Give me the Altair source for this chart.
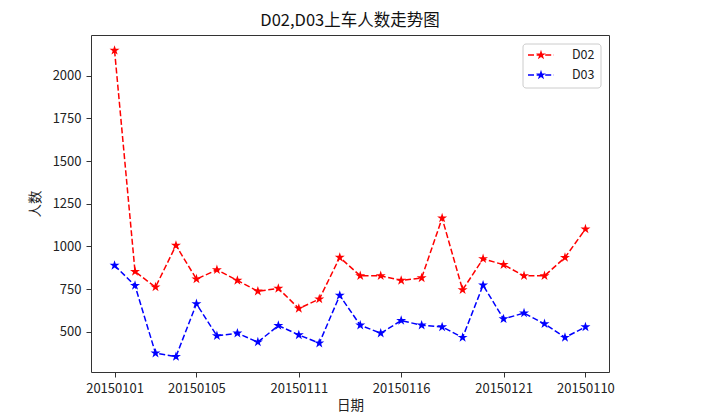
import math
import altair as alt
import pandas as pd

dates = ["20150101", "20150102", "20150103", "20150104", "20150105", "20150106",
         "20150107", "20150108", "20150109", "20150111", "20150112", "20150113",
         "20150114", "20150115", "20150116", "20150117", "20150118", "20150119",
         "20150120", "20150121", "20150122", "20150123", "20150124", "20150110"]
d02 = [2148, 853, 762, 1006, 809, 863, 801, 738, 754, 637, 692, 936,
       828, 828, 801, 816, 1166, 746, 928, 893, 828, 828, 935, 1102]
d03 = [889, 771, 375, 355, 664, 477, 492, 440, 537, 482, 434, 713,
       539, 492, 566, 539, 529, 467, 773, 576, 610, 547, 467, 529]
tick_idx = [0, 4, 9, 14, 19, 23]
series = ["D02", "D03"]
colors = ["#ff0000", "#0000ff"]

rows = []
for i, d in enumerate(dates):
    rows.append({"idx": i, "date": d, "series": "D02", "value": d02[i]})
    rows.append({"idx": i, "date": d, "series": "D03", "value": d03[i]})
df = pd.DataFrame(rows)

FONT = "Noto Sans CJK SC"
label_arr = "[" + ",".join("'" + d + "'" for d in dates) + "]"

# five-pointed star marker path (unit box)
pts_path = []
for k in range(10):
    r = 1.0 if k % 2 == 0 else 0.382
    a = math.radians(-90 + 36 * k)
    pts_path.append(f"{r * math.cos(a):.4f},{r * math.sin(a):.4f}")
STAR = "M" + "L".join(pts_path) + "Z"
STAR_SIZE = 110
DASH = [6, 2.6]

x = alt.X("idx:Q", title="日期",
          scale=alt.Scale(domain=[-1.15, 24.15], nice=False, zero=False),
          axis=alt.Axis(values=tick_idx, labelExpr=label_arr + "[datum.value]",
                        grid=False, tickSize=5, labelPadding=5, titlePadding=3,
                        domain=False, labelFlush=False, orient="bottom"))
y = alt.Y("value:Q", title="人数",
          scale=alt.Scale(domain=[265, 2238], nice=False, zero=False),
          axis=alt.Axis(values=[500, 750, 1000, 1250, 1500, 1750, 2000], format="d",
                        grid=False, tickSize=5, labelPadding=5, titlePadding=10,
                        domain=False, orient="left"))
color = alt.Color("series:N", scale=alt.Scale(domain=series, range=colors), legend=None)

base = alt.Chart(df)
lines = base.mark_line(strokeDash=DASH, strokeWidth=1.5).encode(
    x=x, y=y, color=color, detail="series:N")
pts = base.mark_point(shape=STAR, filled=True, size=STAR_SIZE, opacity=1).encode(
    x="idx:Q", y="value:Q", color=color)

# legend
box = alt.Chart(pd.DataFrame({"a": [0]})).mark_rect(
    fill="white", stroke="#cccccc", strokeWidth=1, cornerRadius=3).encode(
    x=alt.value(432), x2=alt.value(510), y=alt.value(9), y2=alt.value(53))
leg_layers = [box]
for k, (s, c) in enumerate(zip(series, colors)):
    yy = 20 + 20 * k
    ld = pd.DataFrame({"series": [s]})
    leg_layers.append(alt.Chart(ld).mark_rule(color=c, strokeDash=DASH, strokeWidth=1.5).encode(
        x=alt.value(437), x2=alt.value(463), y=alt.value(yy)))
    leg_layers.append(alt.Chart(ld).mark_point(shape=STAR, filled=True, size=STAR_SIZE, color=c,
                                               opacity=1).encode(
        x=alt.value(450), y=alt.value(yy)))
    leg_layers.append(alt.Chart(ld).mark_text(align="left", baseline="middle", font=FONT, fontSize=12.5,
                                              color="#222222").encode(
        x=alt.value(481), y=alt.value(yy), text="series:N"))

chart = alt.layer(lines, pts, *leg_layers).properties(
    width=518, height=337,
    title=alt.TitleParams("D02,D03上车人数走势图", font=FONT, fontSize=16.5, fontWeight="normal",
                          color="#111111", anchor="middle", offset=6),
    padding={"left": 83, "top": 27, "right": 100, "bottom": 40},
    autosize=alt.AutoSizeParams(type="none"),
).configure_view(stroke="#333333", strokeWidth=1).configure_axis(
    labelFont=FONT, titleFont=FONT, labelFontSize=13, titleFontSize=13.5,
    labelColor="#222222", titleColor="#222222", tickColor="#333333",
    titleFontWeight="normal"
)

chart.save("out.html", embed_options={"renderer": "svg", "actions": False})
